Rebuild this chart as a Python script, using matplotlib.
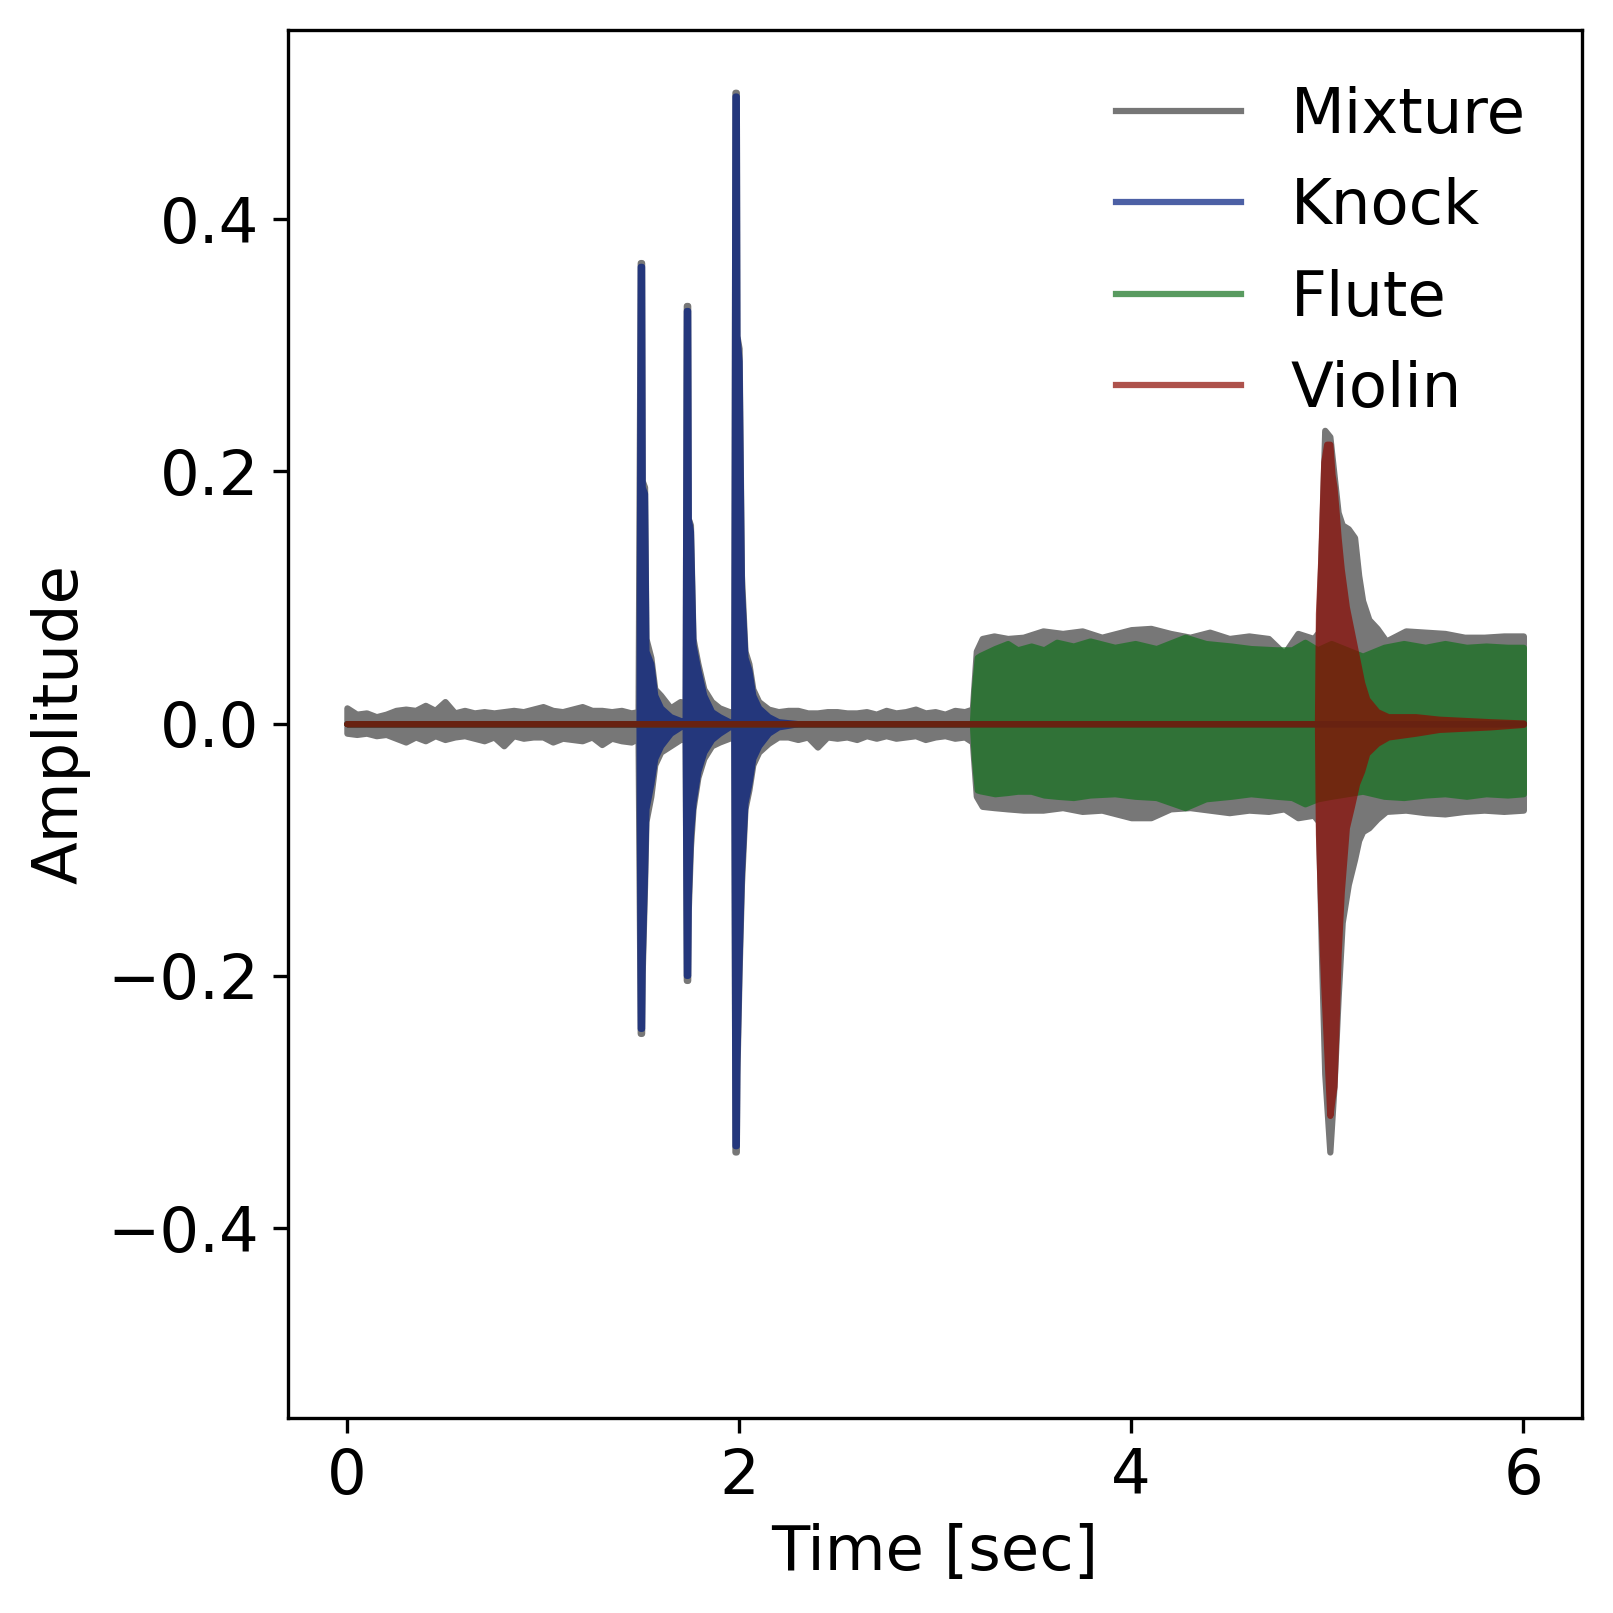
import numpy as np
import matplotlib
matplotlib.use("Agg")
import matplotlib.pyplot as plt
from matplotlib.lines import Line2D

# ---------------- data (outer envelopes) ----------------
labels = ["Mixture", "Knock", "Flute", "Violin"]
colors = ["#3c3c3c", "#001c7f", "#12711c", "#8c0800"]

mix_t = [0.00, 0.05, 0.10, 0.15, 0.20, 0.25, 0.30, 0.35, 0.40, 0.45, 0.50, 0.55, 0.60, 0.65,
         0.70, 0.75, 0.80, 0.85, 0.90, 0.95, 1.00, 1.05, 1.10, 1.15, 1.20, 1.25, 1.30, 1.35,
         1.40, 1.45, 1.485,
         1.496, 1.503, 1.506, 1.518, 1.525, 1.55, 1.57, 1.60, 1.65, 1.70, 1.725,
         1.731, 1.738, 1.741, 1.752, 1.765, 1.79, 1.82, 1.86, 1.90, 1.95, 1.973,
         1.979, 1.986, 1.989, 2.000, 2.012, 2.03, 2.05, 2.07, 2.10, 2.15, 2.20,
         2.25, 2.30, 2.35, 2.40, 2.45, 2.50, 2.55, 2.60, 2.65, 2.70, 2.75, 2.80, 2.85,
         2.90, 2.95, 3.00, 3.05, 3.10, 3.15, 3.19,
         3.21, 3.24, 3.30, 3.37, 3.45, 3.55, 3.65, 3.75, 3.85, 4.00, 4.10, 4.20, 4.30,
         4.40, 4.50, 4.60, 4.70, 4.78, 4.85, 4.93,
         4.955, 4.971, 4.987, 5.013, 5.034, 5.055, 5.076, 5.107, 5.139, 5.16, 5.18, 5.212,
         5.254, 5.30, 5.40, 5.50, 5.60, 5.70, 5.80, 5.90, 6.00]
mix_hi = [0.015, 0.010, 0.011, 0.008, 0.010, 0.013, 0.014, 0.013, 0.017, 0.013, 0.020, 0.011,
          0.013, 0.011, 0.012, 0.011, 0.012, 0.013, 0.012, 0.014, 0.016, 0.013, 0.012, 0.014,
          0.016, 0.013, 0.013, 0.012, 0.013, 0.011, 0.012,
          0.368, 0.368, 0.195, 0.190, 0.070, 0.055, 0.030, 0.025, 0.015, 0.020, 0.012,
          0.334, 0.334, 0.165, 0.160, 0.070, 0.050, 0.030, 0.020, 0.015, 0.012, 0.012,
          0.503, 0.503, 0.310, 0.300, 0.120, 0.060, 0.050, 0.030, 0.020, 0.014, 0.012,
          0.013, 0.013, 0.011, 0.011, 0.012, 0.012, 0.011, 0.011, 0.012, 0.010, 0.013,
          0.011, 0.012, 0.014, 0.011, 0.012, 0.010, 0.013, 0.012, 0.014,
          0.060, 0.070, 0.072, 0.070, 0.071, 0.076, 0.074, 0.076, 0.071, 0.077, 0.078,
          0.074, 0.071, 0.075, 0.070, 0.072, 0.070, 0.058, 0.074, 0.070,
          0.075, 0.150, 0.235, 0.230, 0.200, 0.170, 0.160, 0.157, 0.150, 0.120, 0.100,
          0.085, 0.078, 0.068, 0.076, 0.075, 0.074, 0.071, 0.071, 0.072, 0.072]
mix_lo = [-0.010, -0.011, -0.010, -0.012, -0.011, -0.014, -0.017, -0.013, -0.016, -0.012,
          -0.015, -0.013, -0.012, -0.014, -0.016, -0.013, -0.020, -0.012, -0.014, -0.013,
          -0.013, -0.017, -0.014, -0.015, -0.016, -0.013, -0.019, -0.014, -0.016, -0.017,
          -0.014,
          -0.248, -0.248, -0.200, -0.130, -0.080, -0.060, -0.035, -0.025, -0.020, -0.015,
          -0.014,
          -0.206, -0.206, -0.150, -0.100, -0.070, -0.045, -0.030, -0.020, -0.017, -0.014,
          -0.012,
          -0.342, -0.342, -0.280, -0.200, -0.130, -0.070, -0.055, -0.035, -0.025, -0.018,
          -0.013,
          -0.013, -0.015, -0.013, -0.021, -0.013, -0.014, -0.013, -0.015, -0.012, -0.014,
          -0.012, -0.014, -0.013, -0.012, -0.015, -0.013, -0.012, -0.014, -0.013, -0.017,
          -0.060, -0.068, -0.069, -0.070, -0.071, -0.071, -0.069, -0.072, -0.071, -0.077,
          -0.077, -0.070, -0.069, -0.071, -0.073, -0.071, -0.072, -0.070, -0.077, -0.075,
          -0.080, -0.190, -0.280, -0.342, -0.290, -0.220, -0.160, -0.130, -0.110, -0.095,
          -0.088, -0.085, -0.078, -0.072, -0.071, -0.073, -0.074, -0.072, -0.071, -0.072,
          -0.071]

knock_t = [0.00, 1.490,
           1.496, 1.503, 1.506, 1.518, 1.525, 1.55, 1.57, 1.60, 1.65, 1.70, 1.725,
           1.731, 1.738, 1.741, 1.752, 1.765, 1.79, 1.82, 1.86, 1.90, 1.95, 1.973,
           1.979, 1.986, 1.989, 2.000, 2.012, 2.03, 2.05, 2.07, 2.10, 2.15, 2.20, 2.30,
           6.00]
knock_hi = [0.000, 0.000,
            0.365, 0.365, 0.190, 0.185, 0.060, 0.050, 0.025, 0.015, 0.008, 0.005, 0.000,
            0.330, 0.330, 0.165, 0.155, 0.065, 0.045, 0.025, 0.012, 0.008, 0.004, 0.000,
            0.500, 0.500, 0.310, 0.290, 0.110, 0.055, 0.045, 0.025, 0.015, 0.008, 0.004,
            0.000, 0.000]
knock_lo = [0.000, 0.000,
            -0.244, -0.244, -0.190, -0.120, -0.070, -0.050, -0.030, -0.020, -0.010, -0.005,
            0.000,
            -0.202, -0.202, -0.140, -0.090, -0.065, -0.040, -0.025, -0.015, -0.010, -0.005,
            0.000,
            -0.337, -0.337, -0.270, -0.190, -0.120, -0.065, -0.050, -0.030, -0.020, -0.010,
            -0.005, 0.000, 0.000]

flute_t = [0.00, 3.190, 3.200, 3.215, 3.230, 3.305, 3.370, 3.420, 3.490, 3.555, 3.620, 3.705,
           3.790, 3.916, 4.020, 4.128, 4.275, 4.380, 4.510, 4.610, 4.740, 4.820, 4.886, 4.950,
           5.020, 5.100, 5.180, 5.290, 5.390, 5.500, 5.600, 5.710, 5.810, 5.920, 6.000]
flute_hi = [0.000, 0.000, 0.030, 0.055, 0.0565, 0.062, 0.066, 0.061, 0.064, 0.061, 0.067,
            0.064, 0.068, 0.063, 0.066, 0.062, 0.071, 0.066, 0.064, 0.062, 0.061, 0.061,
            0.067, 0.061, 0.066, 0.061, 0.056, 0.063, 0.066, 0.063, 0.066, 0.063, 0.064,
            0.063, 0.063]
flute_lo = [0.000, 0.000, -0.030, -0.055, -0.0557, -0.058, -0.057, -0.056, -0.056, -0.059,
            -0.060, -0.061, -0.059, -0.058, -0.060, -0.061, -0.069, -0.062, -0.060, -0.058,
            -0.060, -0.061, -0.066, -0.062, -0.060, -0.058, -0.056, -0.060, -0.061, -0.059,
            -0.058, -0.060, -0.058, -0.059, -0.058]

violin_t = [0.00, 4.950, 4.955, 4.966, 4.982, 4.997, 5.013, 5.024, 5.034, 5.045, 5.055,
            5.071, 5.097, 5.123, 5.149, 5.175, 5.201, 5.254, 5.310, 5.450, 5.570, 5.830, 6.000]
violin_hi = [0.000, 0.000, 0.090, 0.130, 0.210, 0.224, 0.224, 0.200, 0.190, 0.170, 0.150,
             0.125, 0.095, 0.075, 0.055, 0.035, 0.022, 0.012, 0.008, 0.008, 0.006, 0.004,
             0.003]
violin_lo = [0.000, 0.000, -0.090, -0.145, -0.210, -0.260, -0.313, -0.300, -0.290, -0.240,
             -0.185, -0.136, -0.085, -0.068, -0.050, -0.040, -0.026, -0.018, -0.013, -0.010,
             -0.007, -0.005, -0.003]

xticks = [0, 2, 4, 6]
yticks = [-0.4, -0.2, 0.0, 0.2, 0.4]

# ---------------- figure ----------------
plt.rcParams["font.family"] = "DejaVu Sans"
plt.rcParams["font.size"] = 15

DPI = 300
fig = plt.figure(figsize=(1613 / DPI, 1613 / DPI), dpi=DPI)
AX_BOX = [0.1786, 0.1212, 0.9809 - 0.1786, 0.9815 - 0.1212]
ax = fig.add_axes(AX_BOX)

ax.set_xlim(-0.3, 6.3)
ax.set_ylim(-0.55, 0.55)

LW = 1.5
ALPHA = 0.7
# half the stroke width, in data units (the read values are outer edges of the stroke)
ax_h_px = fig.get_size_inches()[1] * DPI * AX_BOX[3]
half = (LW / 2) * DPI / 72 / ax_h_px * 1.1


def group_alpha(a):
    """Apply one opacity to a whole artist (fill + stroke do not double up).
    The filtered buffer gets its alpha applied twice on compositing, hence sqrt."""
    f = np.sqrt(a)

    def _f(img, dpi):
        out = img.copy()
        out[..., 3] *= f
        return out, 0, 0
    return _f


series = [
    (mix_t, mix_hi, mix_lo),
    (knock_t, knock_hi, knock_lo),
    (flute_t, flute_hi, flute_lo),
    (violin_t, violin_hi, violin_lo),
]
for (t, hi, lo), c in zip(series, colors):
    hi_c = np.maximum(np.asarray(hi) - half, 0.0)
    lo_c = np.minimum(np.asarray(lo) + half, 0.0)
    coll = ax.fill_between(t, lo_c, hi_c, facecolor=c, edgecolor=c, linewidth=LW,
                           joinstyle="round", capstyle="round")
    coll.set_agg_filter(group_alpha(ALPHA))

handles = [Line2D([], [], color=c, alpha=ALPHA, lw=LW) for c in colors]
ax.legend(handles, labels, loc="upper right", frameon=False)

ax.set_xticks(xticks)
ax.set_yticks(yticks)
ax.set_xlabel("Time [sec]")
ax.set_ylabel("Amplitude")

fig.savefig("out.png", dpi=DPI)
